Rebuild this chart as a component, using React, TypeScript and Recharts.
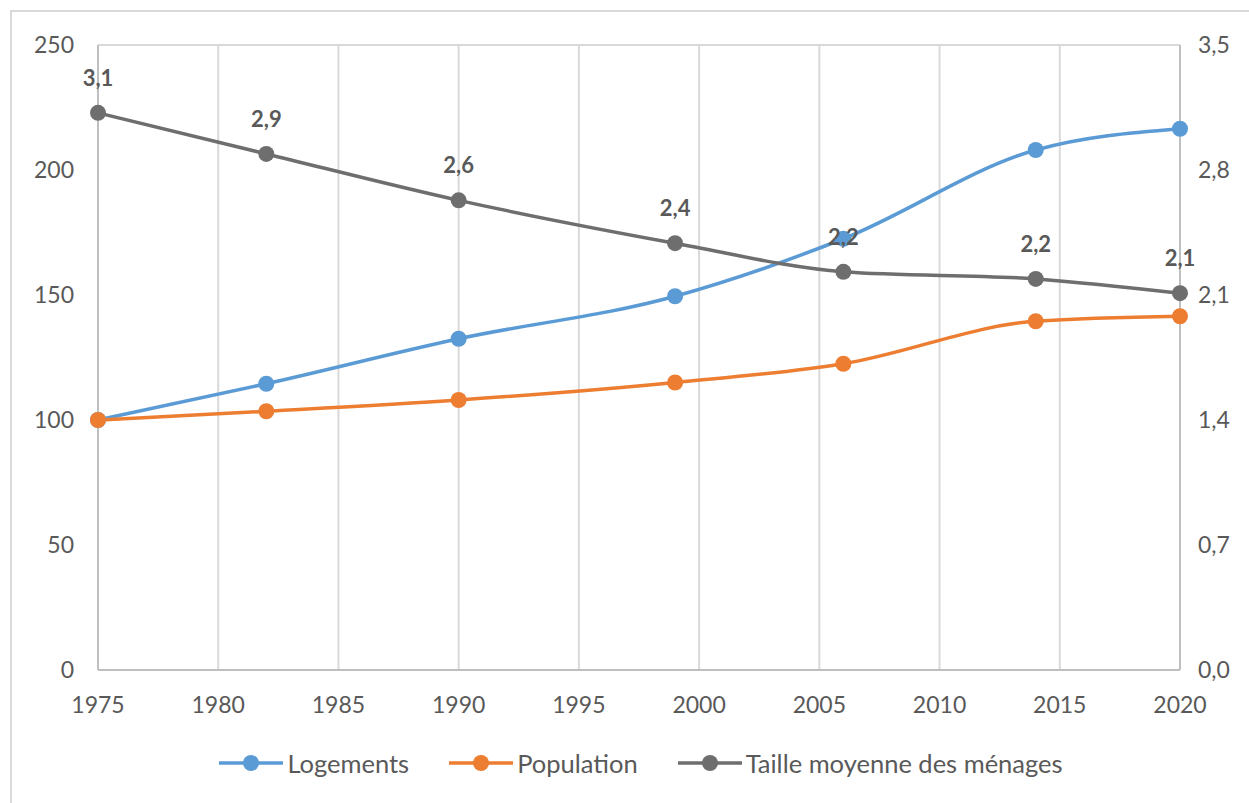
import { ComposedChart, Line, XAxis, YAxis, CartesianGrid, LabelList } from 'recharts';

const years = [1975, 1982, 1990, 1999, 2006, 2014, 2020];
const logements = [100, 114.5, 132.5, 149.5, 172.5, 208, 216.5];
const population = [100, 103.5, 108, 115, 122.5, 139.5, 141.5];
const taille = [3.12, 2.89, 2.63, 2.39, 2.23, 2.19, 2.11];

const xTicks = [1975, 1980, 1985, 1990, 1995, 2000, 2005, 2010, 2015, 2020];
const leftTicks = [0, 50, 100, 150, 200, 250];
const rightTicks = [0, 0.7, 1.4, 2.1, 2.8, 3.5];

const series = [
  { key: 'logements', name: 'Logements', color: '#5b9bd5' },
  { key: 'population', name: 'Population', color: '#ed7d31' },
  { key: 'taille', name: 'Taille moyenne des ménages', color: '#6e6e6e' },
];

const data = years.map((year, i) => ({
  year,
  logements: logements[i],
  population: population[i],
  taille: taille[i],
}));

const FONT = 'Lato, "Open Sans", sans-serif';
const TEXT = '#595959';
const comma = (v: number) => v.toFixed(1).replace('.', ',');

function LegendRow() {
  return (
    <div
      style={{
        position: 'absolute',
        top: 736,
        left: 88,
        width: 1082,
        display: 'flex',
        justifyContent: 'center',
        gap: 40,
        fontFamily: FONT,
        fontSize: 25.5,
        color: TEXT,
      }}
    >
      {series.map(s => (
        <div key={s.key} style={{ display: 'flex', alignItems: 'center' }}>
          <svg width={64} height={20} style={{ marginRight: 4 }}>
            <line x1={0} y1={10} x2={64} y2={10} stroke={s.color} strokeWidth={3.5} />
            <circle cx={32} cy={10} r={8} fill={s.color} />
          </svg>
          <span>{s.name}</span>
        </div>
      ))}
    </div>
  );
}

export default function App() {
  return (
    <div style={{ position: 'absolute', left: 10, top: 10, width: 1239, height: 800, borderLeft: '2px solid #d9d9d9', borderTop: '2px solid #d9d9d9', boxSizing: 'border-box', background: '#fff' }}>
      <div style={{ position: 'absolute', left: -2, top: -2 }}>
        <ComposedChart width={1239} height={720} data={data} margin={{ top: 35, right: 9, bottom: 10, left: 28 }}>
          <CartesianGrid stroke="#d9d9d9" strokeWidth={2} />
          <XAxis
            dataKey="year"
            type="number"
            domain={[1975, 2020]}
            ticks={xTicks}
            interval={0}
            height={50}
            axisLine={{ stroke: '#bfbfbf', strokeWidth: 2 }}
            tickLine={false}
            tickSize={0}
            tickMargin={27}
            tick={{ fill: TEXT, fontSize: 23, fontFamily: FONT }}
          />
          <YAxis
            yAxisId="left"
            domain={[0, 250]}
            ticks={leftTicks}
            interval={0}
            width={60}
            axisLine={{ stroke: '#bfbfbf', strokeWidth: 2 }}
            tickLine={false}
            tickSize={0}
            tickMargin={24}
            tick={{ fill: TEXT, fontSize: 23, fontFamily: FONT }}
          />
          <YAxis
            yAxisId="right"
            orientation="right"
            domain={[0, 3.5]}
            ticks={rightTicks}
            interval={0}
            width={60}
            axisLine={{ stroke: '#bfbfbf', strokeWidth: 2 }}
            tickLine={false}
            tickSize={0}
            tickMargin={18}
            tickFormatter={comma}
            tick={{ fill: TEXT, fontSize: 23, fontFamily: FONT }}
          />
          <Line
            yAxisId="left"
            type="monotone"
            dataKey="logements"
            stroke={series[0].color}
            strokeWidth={3.5}
            dot={{ r: 8, fill: series[0].color, stroke: 'none' }}
            isAnimationActive={false}
          />
          <Line
            yAxisId="left"
            type="monotone"
            dataKey="population"
            stroke={series[1].color}
            strokeWidth={3.5}
            dot={{ r: 8, fill: series[1].color, stroke: 'none' }}
            isAnimationActive={false}
          />
          <Line
            yAxisId="right"
            type="monotone"
            dataKey="taille"
            stroke={series[2].color}
            strokeWidth={3.5}
            dot={{ r: 8, fill: series[2].color, stroke: 'none' }}
            isAnimationActive={false}
          >
            <LabelList
              dataKey="taille"
              position="top"
              offset={27}
              formatter={(v: number) => comma(v)}
              fill={TEXT}
              fontSize={22}
              fontWeight="bold"
              fontFamily={FONT}
            />
          </Line>
        </ComposedChart>
      </div>
      <LegendRow />
    </div>
  );
}
